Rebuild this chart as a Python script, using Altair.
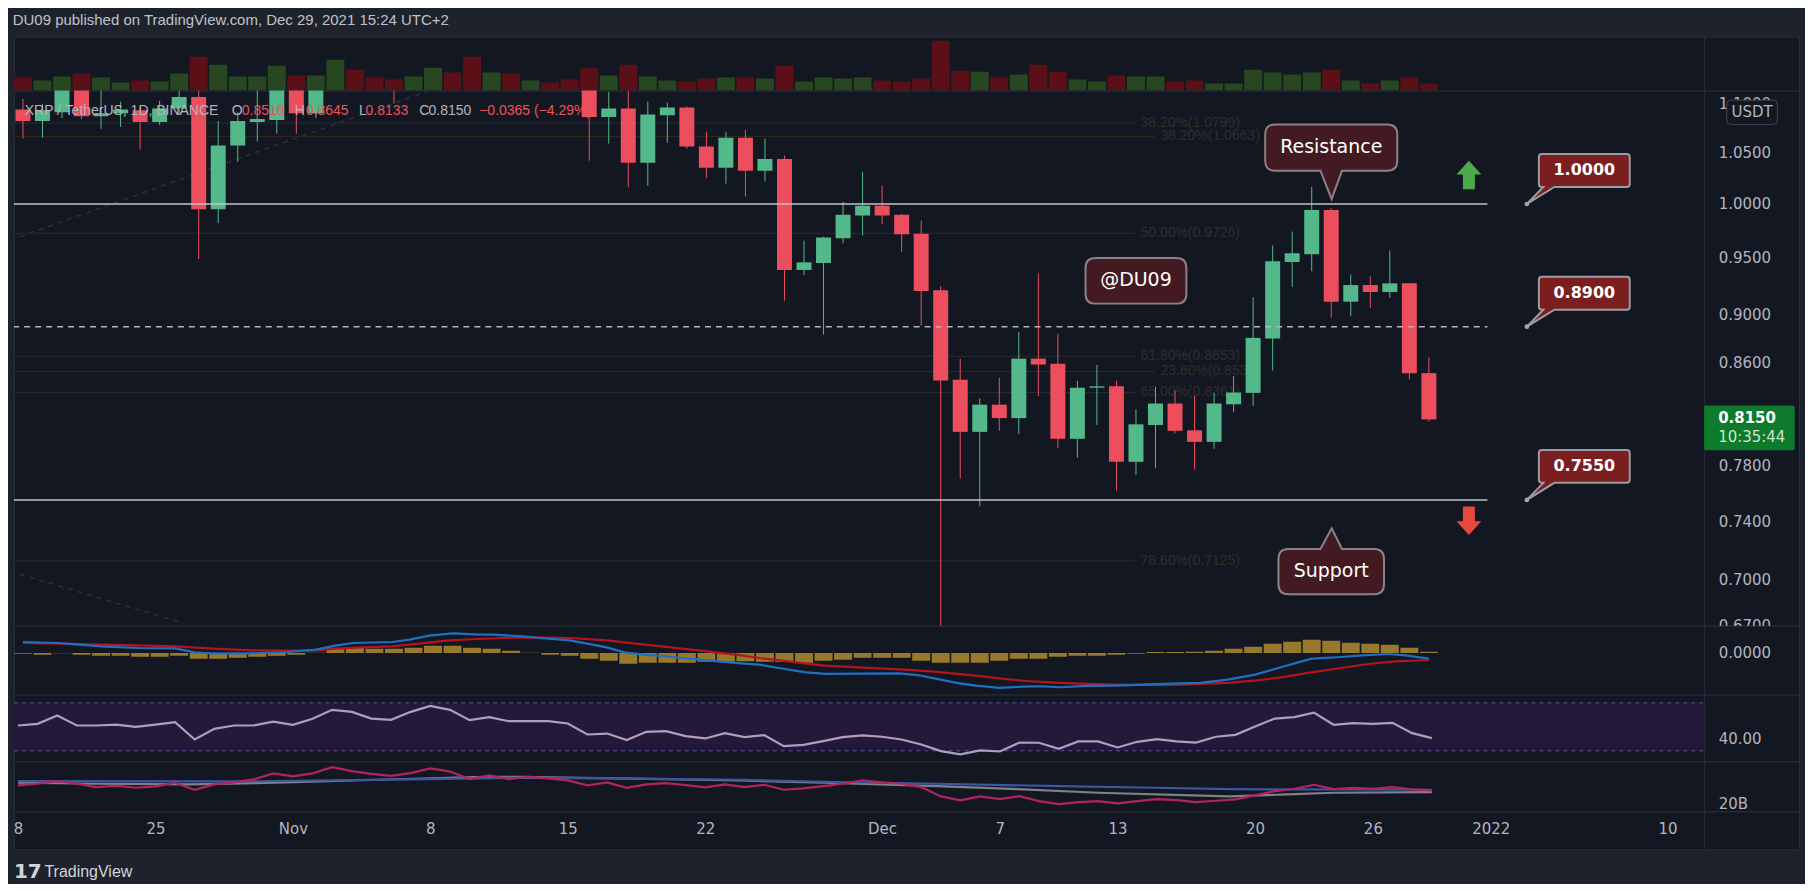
import altair as alt
import pandas as pd

# ---------------- values (day 0 = 18 Oct 2021 ... day 72 = 29 Dec 2021) ----------------
days = list(range(73))
opens = [1.094, 1.082, 1.091, 1.125, 1.087, 1.090, 1.093, 1.081, 1.095, 1.107,
         0.995, 1.057, 1.081, 1.083, 1.125, 1.090, 1.130, 1.210, 1.190, 1.180,
         1.160, 1.210, 1.280, 1.250, 1.200, 1.230, 1.200, 1.210, 1.190, 1.180,
         1.086, 1.095, 1.040, 1.088, 1.096, 1.056, 1.035, 1.065, 1.032, 1.0436,
         0.9393, 0.9455, 0.968, 0.9892, 0.9984, 0.9899, 0.9722, 0.9213, 0.8463, 0.8054,
         0.8265, 0.816, 0.8634, 0.8592, 0.8001, 0.8399, 0.841, 0.7828, 0.8107, 0.8274,
         0.8066, 0.7978, 0.8268, 0.8358, 0.880, 0.9464, 0.9533, 0.9944, 0.9114, 0.9259,
         0.9198, 0.9274, 0.8516]
highs = [1.105, 1.100, 1.135, 1.145, 1.120, 1.102, 1.097, 1.103, 1.118, 1.120,
         1.082, 1.091, 1.120, 1.140, 1.135, 1.150, 1.220, 1.240, 1.210, 1.200,
         1.220, 1.300, 1.300, 1.350, 1.250, 1.250, 1.230, 1.220, 1.250, 1.190,
         1.1125, 1.113, 1.102, 1.101, 1.097, 1.071, 1.071, 1.073, 1.064, 1.047,
         0.9658, 0.9693, 1.002, 1.031, 1.0172, 0.9905, 0.9844, 0.925, 0.8634, 0.8314,
         0.848, 0.8855, 0.9362, 0.884, 0.8455, 0.8583, 0.8455, 0.8228, 0.8408, 0.8378,
         0.8336, 0.836, 0.8493, 0.9153, 0.9614, 0.9741, 1.0162, 0.9961, 0.9353, 0.9335,
         0.9567, 0.9274, 0.8645]
lows = [1.064, 1.065, 1.085, 1.084, 1.074, 1.076, 1.053, 1.078, 1.088, 0.949,
        0.982, 1.041, 1.061, 1.069, 1.069, 1.085, 1.120, 1.180, 1.160, 1.100,
        1.150, 1.200, 1.230, 1.180, 1.170, 1.180, 1.190, 1.180, 1.160, 1.042,
        1.059, 1.016, 1.0175, 1.060, 1.054, 1.025, 1.0195, 1.007, 1.0215, 0.9123,
        0.9347, 0.8834, 0.9633, 0.9706, 0.9808, 0.9554, 0.891, 0.62, 0.7705, 0.7504,
        0.8062, 0.8038, 0.8331, 0.7934, 0.7859, 0.8107, 0.7618, 0.7731, 0.7782, 0.8043,
        0.7769, 0.7926, 0.8206, 0.8255, 0.8538, 0.9243, 0.9381, 0.8977, 0.8992, 0.906,
        0.9147, 0.8466, 0.8133]
closes = [1.082, 1.093, 1.125, 1.087, 1.090, 1.094, 1.081, 1.095, 1.107, 0.995,
          1.057, 1.082, 1.084, 1.125, 1.090, 1.130, 1.210, 1.190, 1.180, 1.160,
          1.210, 1.280, 1.250, 1.200, 1.230, 1.200, 1.210, 1.190, 1.180, 1.086,
          1.095, 1.040, 1.0886, 1.096, 1.056, 1.035, 1.065, 1.032, 1.0436, 0.9393,
          0.9461, 0.9687, 0.9899, 0.9984, 0.9892, 0.9716, 0.9207, 0.8457, 0.8054, 0.8265,
          0.816, 0.8634, 0.8586, 0.8001, 0.8399, 0.841, 0.7828, 0.8112, 0.8274, 0.8062,
          0.7978, 0.8274, 0.8361, 0.8806, 0.947, 0.9542, 0.9944, 0.9114, 0.9259, 0.9198,
          0.9274, 0.8516, 0.8150]
volumes = [390, 300, 420, 510, 390, 240, 300, 270, 510, 1020,
           780, 420, 420, 750, 450, 450, 930, 630, 390, 330,
           420, 690, 540, 1020, 540, 510, 300, 240, 330, 690,
           450, 780, 420, 300, 270, 360, 390, 390, 360, 750,
           270, 390, 360, 390, 300, 270, 360, 1500, 600, 570,
           390, 480, 780, 570, 330, 270, 450, 420, 420, 270,
           300, 210, 210, 630, 540, 480, 540, 630, 300, 210,
           300, 390, 210]
macd_hist = [-0.001, -0.0025, -0.0005, -0.0025, -0.004, -0.004, -0.0055, -0.0055, -0.004, -0.0085,
             -0.0085, -0.007, -0.0055, -0.004, -0.0025, 0.00025, 0.0075, 0.0085, 0.0065, 0.0065,
             0.008, 0.011, 0.011, 0.008, 0.0065, 0.0035, 0.0005, -0.0025, -0.004, -0.0085,
             -0.0115, -0.016, -0.0145, -0.0145, -0.0145, -0.013, -0.013, -0.0125, -0.013, -0.0135,
             -0.0145, -0.0115, -0.01, -0.007, -0.007, -0.007, -0.0115, -0.0145, -0.0145, -0.0145,
             -0.0115, -0.0085, -0.0085, -0.0055, -0.004, -0.004, -0.0025, -0.001, 0.0015, 0.0015,
             0.002, 0.0035, 0.0065, 0.0095, 0.014, 0.017, 0.02, 0.0185, 0.0155, 0.014,
             0.0125, 0.008, 0.002]
macd_days = [0, 1.8, 4, 5.9, 7.8, 8.8, 9.7, 11.7, 13.6, 15, 16, 16.9, 18.9, 19.8, 20.8, 22, 23.2, 24.1,
             25.6, 26.5, 28, 28.9, 29.9, 30.8, 31.8, 32.8, 33.7, 34.7, 35.6, 36.8, 37.7, 38.7, 40.1,
             41.1, 43, 44.9, 45.9, 46.8, 47.8, 48.8, 50, 51.2, 52.1, 53.1, 54.5, 55.9, 57.4, 58.8,
             60.3, 61.7, 63.1, 64.6, 66, 67.5, 68.4, 69.9, 70.8, 72]
macd_vals = [0.0165, 0.015, 0.01, 0.0075, 0.007, 0.001, -0.0005, -0.0005, 0.0015, 0.005, 0.011, 0.015,
             0.0165, 0.02, 0.026, 0.0295, 0.028, 0.0275, 0.025, 0.0225, 0.019, 0.014, 0.0085, 0.001,
             -0.0025, -0.0045, -0.0075, -0.01, -0.0125, -0.0155, -0.0175, -0.0225, -0.029, -0.0315,
             -0.031, -0.0305, -0.0335, -0.039, -0.045, -0.049, -0.0525, -0.0505, -0.05, -0.0515,
             -0.0495, -0.049, -0.0475, -0.046, -0.045, -0.04, -0.0325, -0.02, -0.0085, -0.006,
             -0.004, -0.0015, -0.0035, -0.0085]
signal_days = [0, 1.8, 4, 5.9, 7.8, 9.7, 11.7, 13.6, 15, 16, 17.4, 18.9, 20.3, 21.7, 23.2, 24.6, 26, 28,
               29.9, 30.8, 32.8, 34.7, 36.8, 37.7, 39.2, 40.1, 41.1, 43, 44.9, 45.9, 46.8, 48.8, 50.2,
               51.6, 53.1, 54.5, 55.9, 57.4, 58.8, 60.3, 61.7, 63.1, 64.6, 66, 67.5, 68.9, 70.3, 72]
signal_vals = [0.015, 0.014, 0.0125, 0.0115, 0.01, 0.0065, 0.004, 0.0035, 0.004, 0.0065, 0.0085, 0.01,
               0.014, 0.0185, 0.021, 0.0225, 0.0235, 0.0225, 0.019, 0.016, 0.0095, 0.0035, -0.0035,
               -0.0075, -0.0125, -0.016, -0.019, -0.022, -0.0245, -0.0265, -0.0285, -0.034, -0.039,
               -0.0425, -0.045, -0.0465, -0.0475, -0.048, -0.048, -0.0465, -0.045, -0.0415, -0.036,
               -0.029, -0.0225, -0.0165, -0.0125, -0.0105]
rsi_vals = [51.1, 52.5, 59.4, 51.1, 51.1, 51.9, 50.0, 51.9, 53.9, 39.4,
            48.3, 51.1, 51.1, 54.4, 51.7, 56.7, 64.2, 62.5, 56.9, 55.8,
            62.5, 67.5, 64.2, 55.6, 58.1, 54.7, 54.7, 54.7, 52.8, 43.6,
            44.4, 38.9, 45.8, 46.4, 42.2, 40.3, 44.7, 41.4, 43.1, 33.9,
            35.0, 38.1, 41.4, 42.8, 41.7, 39.4, 35.3, 29.7, 27.0, 30.3,
            29.4, 36.9, 36.7, 31.7, 37.8, 37.8, 32.8, 37.5, 39.7, 37.8,
            36.9, 41.7, 43.3, 50.3, 56.9, 58.1, 61.9, 51.7, 53.1, 52.5,
            53.3, 44.7, 40.6]
osc_vals = [22.65, 22.9, 23.3, 22.9, 22.4, 22.6, 22.3, 22.5, 23.05, 22.0,
            22.8, 23.1, 23.55, 24.45, 24.0, 24.45, 25.4, 24.8, 24.4, 24.1,
            24.5, 25.2, 24.75, 23.6, 24.15, 23.6, 23.95, 23.7, 23.4, 22.65,
            23.1, 22.3, 22.8, 23.0, 22.7, 22.35, 22.8, 22.4, 22.75, 22.0,
            22.2, 22.55, 22.9, 23.4, 23.1, 22.9, 22.4, 21.0, 20.4, 21.0,
            20.6, 21.05, 20.3, 19.85, 20.15, 20.3, 19.95, 20.3, 20.6, 20.45,
            20.15, 20.35, 20.55, 21.15, 21.8, 22.15, 22.75, 22.1, 22.3, 22.15,
            22.4, 22.05, 21.9]
osc_ma1_days = [0, 11.2, 20.8, 25.6, 30.4, 36.8, 41.1, 46.8, 53.1, 57.9, 61.7, 65, 72]
osc_ma1_vals = [23.3, 23.25, 23.6, 23.8, 23.7, 23.5, 23.2, 22.9, 22.55, 22.3, 22.1, 22.05, 22.0]
osc_ma2_days = [0, 4, 8.8, 13.6, 18.4, 23.2, 25.6, 30.4, 36.8, 41.1, 46.8, 51.2, 55, 59.8, 61.7, 64.6, 67, 72]
osc_ma2_vals = [23.05, 22.9, 22.8, 23.1, 23.5, 23.9, 23.95, 23.7, 23.4, 23.05, 22.55, 22.05, 21.55,
                21.15, 21.0, 21.3, 21.55, 21.65]

x_tick_days = [0, 7, 14, 21, 28, 35, 44, 50, 56, 63, 69, 75, 84]
x_tick_labels = ["8", "25", "Nov", "8", "15", "22", "Dec", "7", "13", "20", "26", "2022", "10"]
price_ticks = [0.67, 0.70, 0.74, 0.78, 0.82, 0.86, 0.90, 0.95, 1.00, 1.05, 1.10]

level_prices = [1.0, 0.89, 0.755]
level_texts = ["1.0000", "0.8900", "0.7550"]
level_dashed = [False, True, False]
level_start_day = -5.0
level_end_day = 75.0
level_label_day = 77.02

fib_prices = [1.0799, 1.0663, 0.9726, 0.8653, 0.853, 0.8361, 0.7125]
fib_texts = ["38.20%(1.0799)", "38.20%(1.0663)", "50.00%(0.9726)", "61.80%(0.8653)",
             "23.60%(0.8530)", "65.00%(0.8361)", "78.60%(0.7125)"]
fib_set = ["a", "b", "a", "a", "b", "a", "a"]
fib_text_days = [57.23, 58.25, 57.23, 57.23, 58.25, 57.23, 57.23]
fib_end_days = [56.97, 57.96, 56.97, 56.97, 57.96, 56.97, 56.97]

trend_days = [-0.15, 22.0, -0.15, 8.2]
trend_prices = [0.9695, 1.1225, 0.7035, 0.6717]
trend_ids = ["t1", "t1", "t2", "t2"]

callout_texts = ["Resistance", "Support", "@DU09"]
callout_days = [67.0, 67.0, 57.0]
callout_prices = [1.055, 0.7053, 0.9296]
arrow_days = [74.05, 74.05]
arrow_prices = [1.028, 0.7402]

last_price = 0.8150
countdown = "10:35:44"
title_text = "DU09 published on TradingView.com, Dec 29, 2021 15:24 UTC+2"
legend_parts = [("XRP / TetherUS, 1D, BINANCE", "g"), ("O", "g"), ("0.8516", "r"), ("H", "g"),
                ("0.8645", "r"), ("L", "g"), ("0.8133", "r"), ("C", "g"), ("0.8150", "g"),
                ("\u22120.0365 (\u22124.29%)", "r")]

# ---------------- style / layout ----------------
BG = "#1e222d"
PANE = "#131722"
BORDER = "#2a2e39"
TXT = "#b2b5be"
UP = "#53b98a"
DN = "#ec4e5e"
VOL_UP = "#26471f"
VOL_DN = "#5b1018"
AXF = "DejaVu Sans"
SANS = "Liberation Sans"
W = 1788
AXIS_X = 1693
xs = alt.Scale(domain=[-0.203, 90.70], nice=False, zero=False)
legend_x = [10.8, 218.0, 228.2, 281.2, 292.4, 345.6, 352.2, 406.0, 415.2, 466.0]


def ax_right(**kw):
    d = dict(orient="right", offset=AXIS_X - W, grid=False, ticks=False, domain=True,
             domainColor=BORDER, domainWidth=1, labelPadding=14, labelAlign="left",
             labelColor=TXT, labelFont=AXF, labelFontSize=15, labelOverlap=False,
             labelFlush=False, title=None)
    d.update(kw)
    return alt.Axis(**d)


def X(field="day"):
    return alt.X(f"{field}:Q", scale=xs, axis=None)


def rounded_box(hw, hh, r, top_tail=None, bottom_tail=None):
    s = hw

    def P(x, y):
        return f"{x / s:.4f},{y / s:.4f}"
    d = [f"M{P(-hw + r, -hh)}"]
    for (x, y) in (top_tail or []):
        d.append(f"L{P(x, y)}")
    d.append(f"L{P(hw - r, -hh)}")
    d.append(f"Q{P(hw, -hh)} {P(hw, -hh + r)}")
    d.append(f"L{P(hw, hh - r)}")
    d.append(f"Q{P(hw, hh)} {P(hw - r, hh)}")
    for (x, y) in (bottom_tail or []):
        d.append(f"L{P(x, y)}")
    d.append(f"L{P(-hw + r, hh)}")
    d.append(f"Q{P(-hw, hh)} {P(-hw, hh - r)}")
    d.append(f"L{P(-hw, -hh + r)}")
    d.append(f"Q{P(-hw, -hh)} {P(-hw + r, -hh)}")
    d.append("Z")
    return " ".join(d), (2 * hw) ** 2


one = pd.DataFrame({"a": [0]})
up_cond = alt.condition("datum.close >= datum.open", alt.value(UP), alt.value(DN))

# ---------------- volume pane ----------------
vol_df = pd.DataFrame({"day": days, "volume": volumes,
                       "up": [c >= o for c, o in zip(closes, opens)]})
vol_pane = alt.Chart(vol_df).mark_bar(size=18, clip=True).encode(
    x=X(),
    y=alt.Y("volume:Q", scale=alt.Scale(domain=[0, 1620], nice=False), axis=ax_right(labels=False)),
    color=alt.condition("datum.up", alt.value(VOL_UP), alt.value(VOL_DN)),
).properties(width=W, height=54)

# ---------------- price pane ----------------
py = alt.Scale(type="log", domain=[0.67, 1.1137], nice=False, zero=False)
PAX = ax_right(values=price_ticks, format=".4f")


def Yp(field):
    return alt.Y(f"{field}:Q", scale=py, axis=PAX)


candles = pd.DataFrame({"day": days, "open": opens, "high": highs, "low": lows, "close": closes})
fib_df = pd.DataFrame({"price": fib_prices, "text": fib_texts, "set": fib_set,
                       "tday": fib_text_days, "eday": fib_end_days,
                       "sday": [level_start_day] * len(fib_prices)})
lvl_df = pd.DataFrame({"price": level_prices, "text": level_texts, "dashed": level_dashed,
                       "sday": [level_start_day] * 3, "eday": [level_end_day] * 3,
                       "day": [level_label_day] * 3})
trend_df = pd.DataFrame({"day": trend_days, "price": trend_prices, "id": trend_ids})

layers = []
layers.append(alt.Chart(fib_df).mark_rule(strokeWidth=1, clip=True).encode(
    x=X("sday"), x2="eday:Q", y=Yp("price"),
    color=alt.Color("set:N", scale=alt.Scale(domain=["a", "b"], range=["#262a33", "#33291f"]), legend=None)))
layers.append(alt.Chart(fib_df).mark_text(align="left", baseline="middle", font=SANS, fontSize=14,
                                          color="#2f2e29").encode(
    x=X("tday"), y=Yp("price"), text="text:N"))
layers.append(alt.Chart(trend_df).mark_line(strokeDash=[5, 5], strokeWidth=1.5, color="#2e3038",
                                            clip=True).encode(
    x=X(), y=Yp("price"), detail="id:N"))
layers.append(alt.Chart(candles).mark_rule(strokeWidth=1, clip=True).encode(
    x=X(), y=Yp("low"), y2="high:Q", color=up_cond))
layers.append(alt.Chart(candles).mark_bar(size=15, clip=True).encode(
    x=X(), y=Yp("open"), y2="close:Q", color=up_cond))
layers.append(alt.Chart(lvl_df).transform_filter("!datum.dashed").mark_rule(
    strokeWidth=1.5, color="#c3c5cc", clip=True).encode(x=X("sday"), x2="eday:Q", y=Yp("price")))
layers.append(alt.Chart(lvl_df).transform_filter("datum.dashed").mark_rule(
    strokeWidth=1.5, color="#b2b5be", strokeDash=[6, 5], clip=True).encode(
    x=X("sday"), x2="eday:Q", y=Yp("price")))

# legend line (top-left)
for (txt, col), px in zip(legend_parts, legend_x):
    layers.append(alt.Chart(one).mark_text(align="left", baseline="middle", font=SANS, fontSize=14).encode(
        x=alt.value(px), y=alt.value(20), text=alt.value(txt),
        color=alt.value(TXT if col == "g" else "#f0525f")))

# callouts
res_path, res_size = rounded_box(66.15, 23.15, 10, bottom_tail=[(10.8, 23.15), (0.4, 51.65), (-10.8, 23.15)])
sup_path, sup_size = rounded_box(52.85, 22.6, 10, top_tail=[(-10.8, -22.6), (0.4, -43.4), (10.8, -22.6)])
du_path, du_size = rounded_box(50.5, 22.8, 10)
for i, (pth, sz) in enumerate([(res_path, res_size), (sup_path, sup_size), (du_path, du_size)]):
    cdf = pd.DataFrame({"day": [callout_days[i]], "price": [callout_prices[i]], "text": [callout_texts[i]]})
    layers.append(alt.Chart(cdf).mark_point(shape=pth, size=sz, filled=True, fill="#431a21",
                                            stroke="#8a8288", strokeWidth=2, opacity=1).encode(
        x=X(), y=Yp("price")))
    layers.append(alt.Chart(cdf).mark_text(font=AXF, fontSize=19, color="#ffffff", dy=-1).encode(
        x=X(), y=Yp("price"), text="text:N"))

up_arrow = "M0,-1 L0.877,-0.035 L0.42,-0.035 L0.42,1 L-0.42,1 L-0.42,-0.035 L-0.877,-0.035 Z"
dn_arrow = "M0,1 L0.877,0.035 L0.42,0.035 L0.42,-1 L-0.42,-1 L-0.42,0.035 L-0.877,0.035 Z"
for i, (pth, col) in enumerate([(up_arrow, "#4caa4c"), (dn_arrow, "#e8493e")]):
    adf = pd.DataFrame({"day": [arrow_days[i]], "price": [arrow_prices[i]]})
    layers.append(alt.Chart(adf).mark_point(shape=pth, size=812, filled=True, fill=col,
                                            strokeWidth=0, opacity=1).encode(x=X(), y=Yp("price")))

# level labels with pointer
lvl_path, lvl_size = rounded_box(45.5, 16.5, 3, bottom_tail=[(-30, 16.5), (-57.5, 33.6), (-41, 16.5)])
layers.append(alt.Chart(lvl_df).mark_point(shape=lvl_path, size=lvl_size, filled=True, fill="#7b1e1f",
                                           stroke="#9c9ca4", strokeWidth=2, opacity=1,
                                           xOffset=57.5, yOffset=-33.6).encode(x=X(), y=Yp("price")))
layers.append(alt.Chart(lvl_df).mark_point(filled=True, size=22, color="#a3a6af", opacity=1).encode(
    x=X(), y=Yp("price")))
layers.append(alt.Chart(lvl_df).mark_text(font=AXF, fontSize=16, fontWeight="bold", color="#ffffff",
                                          dx=57.5, dy=-34).encode(x=X(), y=Yp("price"), text="text:N"))

# price-scale badges
usdt_path, usdt_size = rounded_box(25.3, 12.15, 4)
layers.append(alt.Chart(one).mark_point(shape=usdt_path, size=usdt_size, filled=True, fill=PANE,
                                        stroke="#434651", strokeWidth=1, opacity=1).encode(
    x=alt.value(1741), y=alt.value(21.7)))
layers.append(alt.Chart(one).mark_text(font=AXF, fontSize=15, color=TXT).encode(
    x=alt.value(1741), y=alt.value(21.7), text=alt.value("USDT")))
pb_path, pb_size = rounded_box(45.35, 22.35, 2)
layers.append(alt.Chart(one).mark_point(shape=pb_path, size=pb_size, filled=True, fill="#0e7a2c",
                                        strokeWidth=0, opacity=1, yOffset=8.45).encode(
    x=alt.value(AXIS_X + 45.35), y=alt.datum(last_price)))
layers.append(alt.Chart(one).mark_text(font=AXF, fontSize=15, fontWeight="bold", color="#ffffff",
                                       align="left", dy=-1).encode(
    x=alt.value(AXIS_X + 14), y=alt.datum(last_price), text=alt.value(f"{last_price:.4f}")))
layers.append(alt.Chart(one).mark_text(font=AXF, fontSize=15, color="#cde5cf", align="left", dy=18).encode(
    x=alt.value(AXIS_X + 14), y=alt.datum(last_price), text=alt.value(countdown)))

price_pane = alt.layer(*layers).properties(width=W, height=536)

# ---------------- MACD pane ----------------
ms = alt.Scale(domain=[-0.0625, 0.041], nice=False, zero=False)
MAX = ax_right(values=[0], format=".4f")
hist_df = pd.DataFrame({"day": days, "hist": macd_hist})
macd_df = pd.DataFrame({"day": macd_days, "v": macd_vals})
sig_df = pd.DataFrame({"day": signal_days, "v": signal_vals})
macd_pane = alt.layer(
    alt.Chart(hist_df).mark_bar(size=18, color="#98792c", clip=True).encode(
        x=X(), y=alt.Y("hist:Q", scale=ms, axis=MAX)),
    alt.Chart(sig_df).mark_line(color="#b3141f", strokeWidth=2.2, clip=True).encode(
        x=X(), y=alt.Y("v:Q", scale=ms, axis=MAX)),
    alt.Chart(macd_df).mark_line(color="#1f70c1", strokeWidth=2.2, clip=True).encode(
        x=X(), y=alt.Y("v:Q", scale=ms, axis=MAX)),
).properties(width=W, height=69)

# ---------------- RSI pane ----------------
rs = alt.Scale(domain=[21.08, 76.92], nice=False, zero=False)
RAX = ax_right(values=[40], format=".2f")
rsi_pane = alt.layer(
    alt.Chart(pd.DataFrame({"hi": [70], "lo": [30]})).mark_rect(color="#22193b").encode(
        x=alt.value(0), x2=alt.value(AXIS_X), y=alt.Y("hi:Q", scale=rs, axis=RAX), y2="lo:Q"),
    alt.Chart(pd.DataFrame({"v": [70, 30]})).mark_rule(strokeDash=[4, 4], color="#4a55a0", strokeWidth=1).encode(
        x=alt.value(0), x2=alt.value(AXIS_X), y=alt.Y("v:Q", scale=rs, axis=RAX)),
    alt.Chart(pd.DataFrame({"day": days, "v": rsi_vals})).mark_line(color="#ad9fc1", strokeWidth=2.2).encode(
        x=X(), y=alt.Y("v:Q", scale=rs, axis=RAX)),
).properties(width=W, height=67)

# ---------------- third indicator pane ----------------
os_ = alt.Scale(domain=[18.75, 26.25], nice=False, zero=False)
OAX = ax_right(values=[20], labelExpr="format(datum.value, 'd') + 'B'")
osc_pane = alt.layer(
    alt.Chart(pd.DataFrame({"day": osc_ma2_days, "v": osc_ma2_vals})).mark_line(
        color="#7f8189", strokeWidth=2.2, clip=True).encode(x=X(), y=alt.Y("v:Q", scale=os_, axis=OAX)),
    alt.Chart(pd.DataFrame({"day": osc_ma1_days, "v": osc_ma1_vals})).mark_line(
        color="#3a56a5", strokeWidth=2.2, clip=True).encode(x=X(), y=alt.Y("v:Q", scale=os_, axis=OAX)),
    alt.Chart(pd.DataFrame({"day": days, "v": osc_vals})).mark_line(
        color="#b2235f", strokeWidth=2.2, clip=True).encode(x=X(), y=alt.Y("v:Q", scale=os_, axis=OAX)),
).properties(width=W, height=50)

# ---------------- date axis strip + footer ----------------
label_expr = ("[" + ",".join(f"'{t}'" for t in x_tick_labels) + "][indexof(["
              + ",".join(str(d) for d in x_tick_days) + "], datum.value)]")
xaxis = alt.Axis(orient="bottom", offset=-38, values=x_tick_days, labelExpr=label_expr, grid=False,
                 ticks=False, domain=False, labelPadding=10, labelColor=TXT, labelFont=AXF,
                 labelFontSize=15, labelFlush=False, labelOverlap=False, title=None)
axis_pane = alt.layer(
    alt.Chart(pd.DataFrame({"day": x_tick_days, "y": [0.5] * len(x_tick_days)})).mark_point(opacity=0).encode(
        x=alt.X("day:Q", scale=xs, axis=xaxis),
        y=alt.Y("y:Q", scale=alt.Scale(domain=[0, 1]), axis=ax_right(labels=False))),
    alt.Chart(one).mark_text(align="left", baseline="middle", font=AXF, fontSize=20, fontWeight="bold",
                             color="#d1d4dc").encode(x=alt.value(0), y=alt.value(61), text=alt.value("17")),
    alt.Chart(one).mark_text(align="left", baseline="middle", font=SANS, fontSize=16,
                             color="#d1d4dc").encode(x=alt.value(30.5), y=alt.value(61),
                                                     text=alt.value("TradingView")),
).properties(width=W, height=38)

chart = alt.vconcat(
    vol_pane, price_pane, macd_pane, rsi_pane, osc_pane, axis_pane,
    spacing=0, bounds="flush",
    title=alt.TitleParams(title_text, anchor="start", font=SANS, fontSize=15, fontWeight="normal",
                          color="#bfc2c9", offset=8),
).configure(
    background=BG, padding={"left": 4, "top": 4, "right": 5, "bottom": 0}
).configure_view(fill=PANE, stroke=BORDER, strokeWidth=1)

chart.save("out.html", embed_options={"renderer": "svg", "actions": False})
